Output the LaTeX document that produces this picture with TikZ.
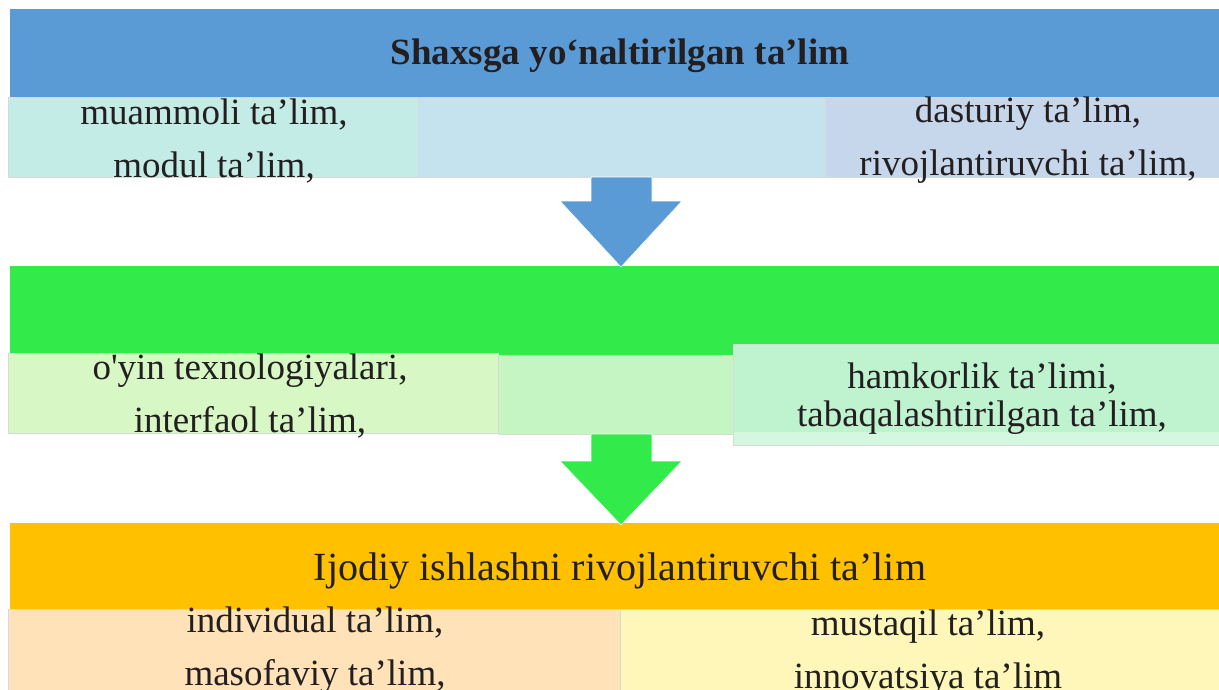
\documentclass[tikz,border=0pt]{standalone}
\usepackage{fontspec}
\setmainfont{Liberation Serif}[Ligatures=TeXOff]
\usetikzlibrary{positioning}

\definecolor{bandblue}{HTML}{5B9BD5}
\definecolor{bandgreen}{HTML}{32EA4A}
\definecolor{bandorange}{HTML}{FFC000}
\definecolor{mintA}{HTML}{C2ECE5}
\definecolor{skyA}{HTML}{C5E3EE}
\definecolor{lilacA}{HTML}{C6D6EB}
\definecolor{limeB}{HTML}{D7F8C4}
\definecolor{greenB}{HTML}{C4F5C2}
\definecolor{jadeB}{HTML}{BFF3CF}
\definecolor{jadeBlow}{HTML}{D3F7DF}
\definecolor{peachC}{HTML}{FFE2B7}
\definecolor{creamC}{HTML}{FEF7B9}
\definecolor{inkgray}{HTML}{231F20}

\begin{document}
\begin{tikzpicture}[x=1pt,y=-1pt,
    cell/.style={draw=white!70!gray,line width=0.8pt},
    label/.style={align=center,inner sep=0pt,text=inkgray,
      font=\fontsize{37}{53}\selectfont},
    title/.style={anchor=base,inner sep=0pt,text=inkgray,
      font=\fontsize{40}{44}\selectfont}]
  \useasboundingbox (0,0) rectangle (1219,689);
  \clip (0,0) rectangle (1219,689);
  % Draw the three bands
  \fill[bandblue] (10,9) rectangle (1219,97);
  \fill[bandgreen] (10,266) rectangle (1219,355);
  \fill[bandorange] (10,523) rectangle (1219,609);
  % Draw the boxes under each band
  \fill[mintA,cell] (8,97) rectangle (418,177);
  \fill[skyA,cell] (418,97) rectangle (825,177);
  \fill[lilacA,cell] (825,97) rectangle (1221,177);
  \fill[limeB,cell] (8,353) rectangle (498,433);
  \fill[greenB,cell] (498,355) rectangle (733,434);
  \fill[jadeBlow,cell] (733,344) rectangle (1221,445);
  \fill[jadeB] (734,345) rectangle (1221,432);
  \fill[peachC,cell] (8,609) rectangle (620,692);
  \fill[creamC,cell] (620,609) rectangle (1221,692);
  % Draw the block arrows
  \fill[bandblue,draw=white,line width=0.6pt] (591,177) -- (652,177) -- (652,201)
    -- (682,201) -- (621,267) -- (560,201) -- (591,201) -- cycle;
  \fill[bandgreen,draw=white,line width=0.6pt] (591,434) -- (652,434) -- (652,461)
    -- (682,461) -- (621,525) -- (560,461) -- (591,461) -- cycle;
  % Texts
  \node (top) [title,font=\fontsize{37}{44}\selectfont\bfseries] at (620,64)
    {Shaxsga yo‘naltirilgan ta’lim};
  \node (mid) [title] at (620,580) {Ijodiy ishlashni rivojlantiruvchi ta’lim};
  \node (a1) [label] at (214,141) {muammoli ta’lim,\\ modul ta’lim,};
  \node (a3) [label] at (1028,140) {dasturiy ta’lim,\\ rivojlantiruvchi ta’lim,};
  \node (b1) [label] at (250,396) {o'yin texnologiyalari,\\ interfaol ta’lim,};
  \node (b3) [label,font=\fontsize{37}{38}\selectfont] at (982,399)
    {hamkorlik ta’limi,\\ tabaqalashtirilgan ta’lim,};
  \node (c1) [label] at (315,650) {individual ta’lim,\\ masofaviy ta’lim,};
  \node (c2) [label] at (928,653) {mustaqil ta’lim,\\ innovatsiya ta’lim};
\end{tikzpicture}
\end{document}
